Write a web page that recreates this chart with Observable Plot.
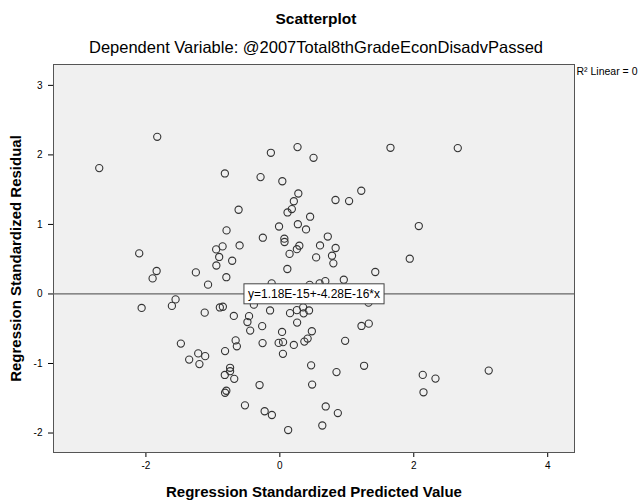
<!DOCTYPE html>
<html><head><meta charset="utf-8">
<script src="https://cdn.jsdelivr.net/npm/d3@7"></script>
<script src="https://cdn.jsdelivr.net/npm/@observablehq/plot@0.6"></script>
<style>
body{margin:0;background:#fff;font-family:"Liberation Sans",Arial,sans-serif;color:#000;}
#wrap{width:644px;height:502px;overflow:hidden;position:relative;}
.t1{height:36px;line-height:38px;width:632px;text-align:center;font-weight:bold;font-size:15.5px;}
.t2{height:22px;line-height:22px;width:632px;text-align:center;font-size:16.5px;}
#chart svg{display:block;}
</style></head><body>
<div id="wrap">
<div class="t1" id="title"></div>
<div class="t2" id="subtitle"></div>
<div id="chart"></div>
</div>
<script>
const titleText = "Scatterplot";
const subtitleText = "Dependent Variable: @2007Total8thGradeEconDisadvPassed";
const xLabel = "Regression Standardized Predicted Value";
const yLabel = "Regression Standardized Residual";
const legendText = "R² Linear = 0";
const eqLabel = "y=1.18E-15+-4.28E-16*x";
const xTicks = [-2, 0, 2, 4];
const yTicks = [-2, -1, 0, 1, 2, 3];
const xDomain = [-3.38, 4.40];
const yDomain = [-2.28, 3.30];

const predicted = [
-2.697,-1.831,-0.821,-0.288,-0.616,-0.796,-2.100,-0.951,-0.855,-0.601,-0.906,-0.712,
1.652,0.264,-0.134,0.503,0.037,1.216,0.276,0.831,1.034,0.209,0.179,0.115,0.452,-0.012,
0.269,0.391,-0.254,0.067,0.070,0.716,0.291,0.254,0.600,0.833,0.145,0.542,0.779,2.657,
2.075,1.940,0.799,-0.948,0.112,-0.799,-1.254,-1.072,-0.122,-1.840,-1.900,1.425,0.955,
0.679,0.594,0.445,
-1.557,-1.612,-2.064,-0.896,-0.851,-1.122,-0.687,-0.460,-0.484,-0.443,-0.388,-0.146,
-0.264,0.152,0.254,0.355,0.436,0.348,0.258,0.033,0.478,0.415,0.366,-0.258,-0.018,0.048,
0.209,0.046,-0.660,-0.642,-1.478,-0.818,-1.219,-1.115,-1.354,-1.201,-0.743,-0.743,-0.822,
-0.681,-0.303,-0.799,-0.818,-0.521,-0.227,-0.119,0.124,0.975,1.219,1.328,1.258,0.467,
0.846,0.482,0.685,0.866,0.634,1.324,2.134,2.324,2.145,3.119
];
const residual = [
1.810,2.260,1.733,1.681,1.211,0.914,0.583,0.641,0.684,0.698,0.532,0.478,
2.102,2.112,2.030,1.958,1.621,1.484,1.445,1.351,1.336,1.333,1.221,1.172,1.111,0.970,
1.003,0.928,0.809,0.795,0.747,0.826,0.694,0.644,0.698,0.661,0.576,0.526,0.550,2.098,
0.977,0.507,0.440,0.409,0.359,0.241,0.310,0.134,0.152,0.330,0.224,0.316,0.205,
0.184,0.152,0.131,
-0.078,-0.172,-0.201,-0.194,-0.184,-0.269,-0.316,-0.319,-0.404,-0.527,-0.154,-0.237,
-0.463,-0.276,-0.233,-0.279,-0.237,-0.193,-0.412,-0.546,-0.536,-0.642,-0.685,-0.707,-0.704,-0.693,
-0.733,-0.861,-0.668,-0.753,-0.714,-0.822,-0.855,-0.894,-0.944,-1.009,-1.062,-1.111,-1.165,
-1.221,-1.310,-1.392,-1.421,-1.602,-1.687,-1.741,-1.957,-0.674,-0.460,-0.427,-1.033,-1.027,
-1.124,-1.303,-1.618,-1.713,-1.892,-0.125,-1.164,-1.217,-1.414,-1.102
];

document.getElementById("title").textContent = titleText;
document.getElementById("subtitle").textContent = subtitleText;

const points = predicted.map((x, i) => ({x, y: residual[i]}));
const font = "Liberation Sans, Arial, sans-serif";

const chart = Plot.plot({
  width: 644, height: 444,
  marginTop: 6, marginBottom: 50, marginLeft: 53, marginRight: 70,
  style: {fontFamily: font, fontSize: "10px", background: "#fff", color: "#000", overflow: "visible"},
  x: {domain: xDomain, ticks: xTicks, tickFormat: d => String(d), tickSize: 5, tickPadding: 4, label: null},
  y: {domain: yDomain, ticks: yTicks, tickFormat: d => String(d), tickSize: 5, tickPadding: 6, label: null},
  marks: [
    Plot.frame({fill: "#f0f0f0", stroke: "#555"}),
    Plot.ruleY([0], {stroke: "#666", strokeWidth: 1.2}),
    Plot.dot(points, {x: "x", y: "y", r: 3.6, stroke: "#333", strokeWidth: 1.1, fill: "none"}),
    Plot.text([{label: eqLabel, y: 0}], {y: "y", text: "label", frameAnchor: "middle", fontSize: 12, fill: "#000"}),
    Plot.text([xLabel], {text: d => d, frameAnchor: "bottom", dy: 40, lineAnchor: "middle", fontWeight: "bold", fontSize: 15}),
    Plot.text([yLabel], {text: d => d, frameAnchor: "left", rotate: -90, dx: -37, textAnchor: "middle", lineAnchor: "middle", fontWeight: "bold", fontSize: 15}),
    Plot.text([legendText], {text: d => d, frameAnchor: "top-right", dx: 2, dy: 7, textAnchor: "start", lineAnchor: "middle", fontSize: 10.5})
  ]
});
document.getElementById("chart").appendChild(chart);

// white box with border behind the equation label
d3.select(chart).selectAll("text").filter(function() { return this.textContent === eqLabel; }).each(function() {
  const bb = this.getBBox();
  const rect = document.createElementNS("http://www.w3.org/2000/svg", "rect");
  rect.setAttribute("x", bb.x - 4);
  rect.setAttribute("y", bb.y - 3);
  rect.setAttribute("width", bb.width + 8);
  rect.setAttribute("height", bb.height + 6);
  rect.setAttribute("fill", "#fff");
  rect.setAttribute("stroke", "#444");
  rect.setAttribute("stroke-width", 1);
  const tr = this.getAttribute("transform");
  if (tr) rect.setAttribute("transform", tr);
  this.parentNode.insertBefore(rect, this);
});
</script>
</body></html>
